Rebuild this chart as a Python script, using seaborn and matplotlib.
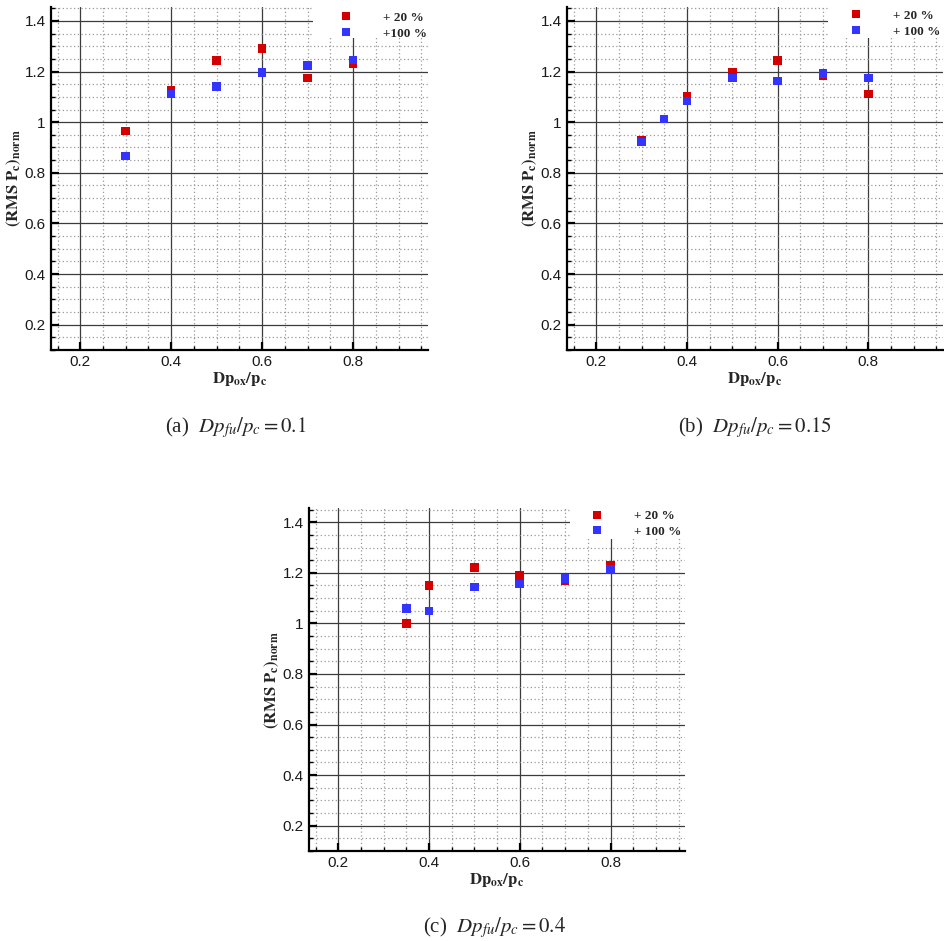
import matplotlib
matplotlib.use("Agg")
import matplotlib.pyplot as plt
import numpy as np
import pandas as pd
import seaborn as sns
from matplotlib.ticker import MultipleLocator, FuncFormatter
from matplotlib.patches import Rectangle

# ---------------- data ----------------
series_labels_a = ["+ 20 %", "+100 %"]
series_labels_bc = ["+ 20 %", "+ 100 %"]

x_a_red = [0.3, 0.4, 0.5, 0.6, 0.7, 0.8]
y_a_red = [0.966, 1.125, 1.243, 1.292, 1.175, 1.230]
x_a_blue = [0.3, 0.4, 0.5, 0.6, 0.7, 0.8]
y_a_blue = [0.866, 1.112, 1.141, 1.197, 1.224, 1.245]

x_b_red = [0.3, 0.4, 0.5, 0.6, 0.7, 0.8]
y_b_red = [0.928, 1.103, 1.196, 1.243, 1.183, 1.112]
x_b_blue = [0.3, 0.35, 0.4, 0.5, 0.6, 0.7, 0.8]
y_b_blue = [0.922, 1.012, 1.084, 1.174, 1.163, 1.193, 1.174]

x_c_red = [0.35, 0.4, 0.5, 0.6, 0.7, 0.8]
y_c_red = [1.000, 1.149, 1.220, 1.189, 1.170, 1.230]
x_c_blue = [0.35, 0.4, 0.5, 0.6, 0.7, 0.8]
y_c_blue = [1.058, 1.049, 1.143, 1.155, 1.178, 1.214]

captions = [r"(a)  $Dp_{fu}/p_c = 0.1$",
            r"(b)  $Dp_{fu}/p_c = 0.15$",
            r"(c)  $Dp_{fu}/p_c = 0.4$"]

RED = "#d40000"
BLUE = "#3434ff"

# ---------------- style ----------------
sns.set_theme(style="white")
plt.rcParams["font.family"] = ["Liberation Sans", "DejaVu Sans"]
plt.rcParams["mathtext.fontset"] = "stix"

fig = plt.figure(figsize=(9.44, 9.41), dpi=100)


def panel(rect, xr, yr, xb, yb, labels, caption, cap_xy, leg_anchor):
    ax = fig.add_axes(rect)
    df = pd.DataFrame({
        "x": list(xr) + list(xb),
        "y": list(yr) + list(yb),
        "series": [labels[0]] * len(xr) + [labels[1]] * len(xb),
    })
    sns.scatterplot(data=df, x="x", y="y", hue="series",
                    hue_order=labels,
                    palette={labels[0]: RED, labels[1]: BLUE},
                    marker="s", s=38, linewidth=0, ax=ax, zorder=5,
                    legend=True)
    ax.set_xlim(0.135, 0.964)
    ax.set_ylim(0.10, 1.455)

    fmt = FuncFormatter(lambda v, p: f"{v:g}")
    ax.xaxis.set_major_locator(MultipleLocator(0.2))
    ax.xaxis.set_minor_locator(MultipleLocator(0.05))
    ax.yaxis.set_major_locator(MultipleLocator(0.2))
    ax.yaxis.set_minor_locator(MultipleLocator(0.05))
    ax.xaxis.set_major_formatter(fmt)
    ax.yaxis.set_major_formatter(fmt)

    ax.set_axisbelow(True)
    ax.grid(which="major", color="#3c3c3c", lw=0.9, ls="-")
    ax.grid(which="minor", color="#9a9a9a", lw=0.9, ls=(0, (1, 2)))

    ax.tick_params(which="major", direction="in", length=6, width=1.6,
                   left=True, bottom=True, labelsize=11, labelcolor="#1a1a1a",
                   color="black", pad=3.5)
    ax.tick_params(which="minor", direction="in", length=3, width=1.0,
                   left=True, bottom=True, color="black")
    for s in ["top", "right"]:
        ax.spines[s].set_visible(False)
    for s in ["left", "bottom"]:
        ax.spines[s].set_linewidth(1.6)
        ax.spines[s].set_color("black")

    ax.set_xlabel(r"$\mathbf{Dp_{ox}/p_c}$", fontsize=12, labelpad=1)
    ax.set_ylabel(r"$\mathbf{(RMS\ P_c)_{norm}}$", fontsize=12, labelpad=1)

    # white legend area covering the grid
    ax.add_patch(Rectangle((0.695, 0.91), 0.36, 0.12, transform=ax.transAxes,
                           facecolor="white", edgecolor="none", zorder=2,
                           clip_on=False))
    leg = ax.get_legend()
    handles = leg.legend_handles
    labs = [t.get_text() for t in leg.get_texts()]
    leg.remove()
    ax.legend(handles, labs, loc="upper left", bbox_to_anchor=leg_anchor,
              frameon=False, handlelength=1.0, handletextpad=2.3,
              labelspacing=0.25, borderpad=0, borderaxespad=0,
              prop={"family": "Liberation Serif", "weight": "bold", "size": 9.5})

    fig.text(cap_xy[0], cap_xy[1], caption, fontsize=15, ha="center",
             va="center", family="Liberation Serif")
    return ax


W, H = 944.0, 941.0
panel([50.7 / W, (H - 350) / H, 377 / W, 343 / H],
      x_a_red, y_a_red, x_a_blue, y_a_blue, series_labels_a,
      captions[0], (236 / W, (H - 428) / H), (0.767, 0.986))
panel([566.7 / W, (H - 350) / H, 376 / W, 343 / H],
      x_b_red, y_b_red, x_b_blue, y_b_blue, series_labels_bc,
      captions[1], (755 / W, (H - 428) / H), (0.751, 0.992))
panel([308.7 / W, (H - 851) / H, 376.3 / W, 342.7 / H],
      x_c_red, y_c_red, x_c_blue, y_c_blue, series_labels_bc,
      captions[2], (495 / W, (H - 928) / H), (0.749, 0.995))

fig.savefig("out.png", dpi=100)
